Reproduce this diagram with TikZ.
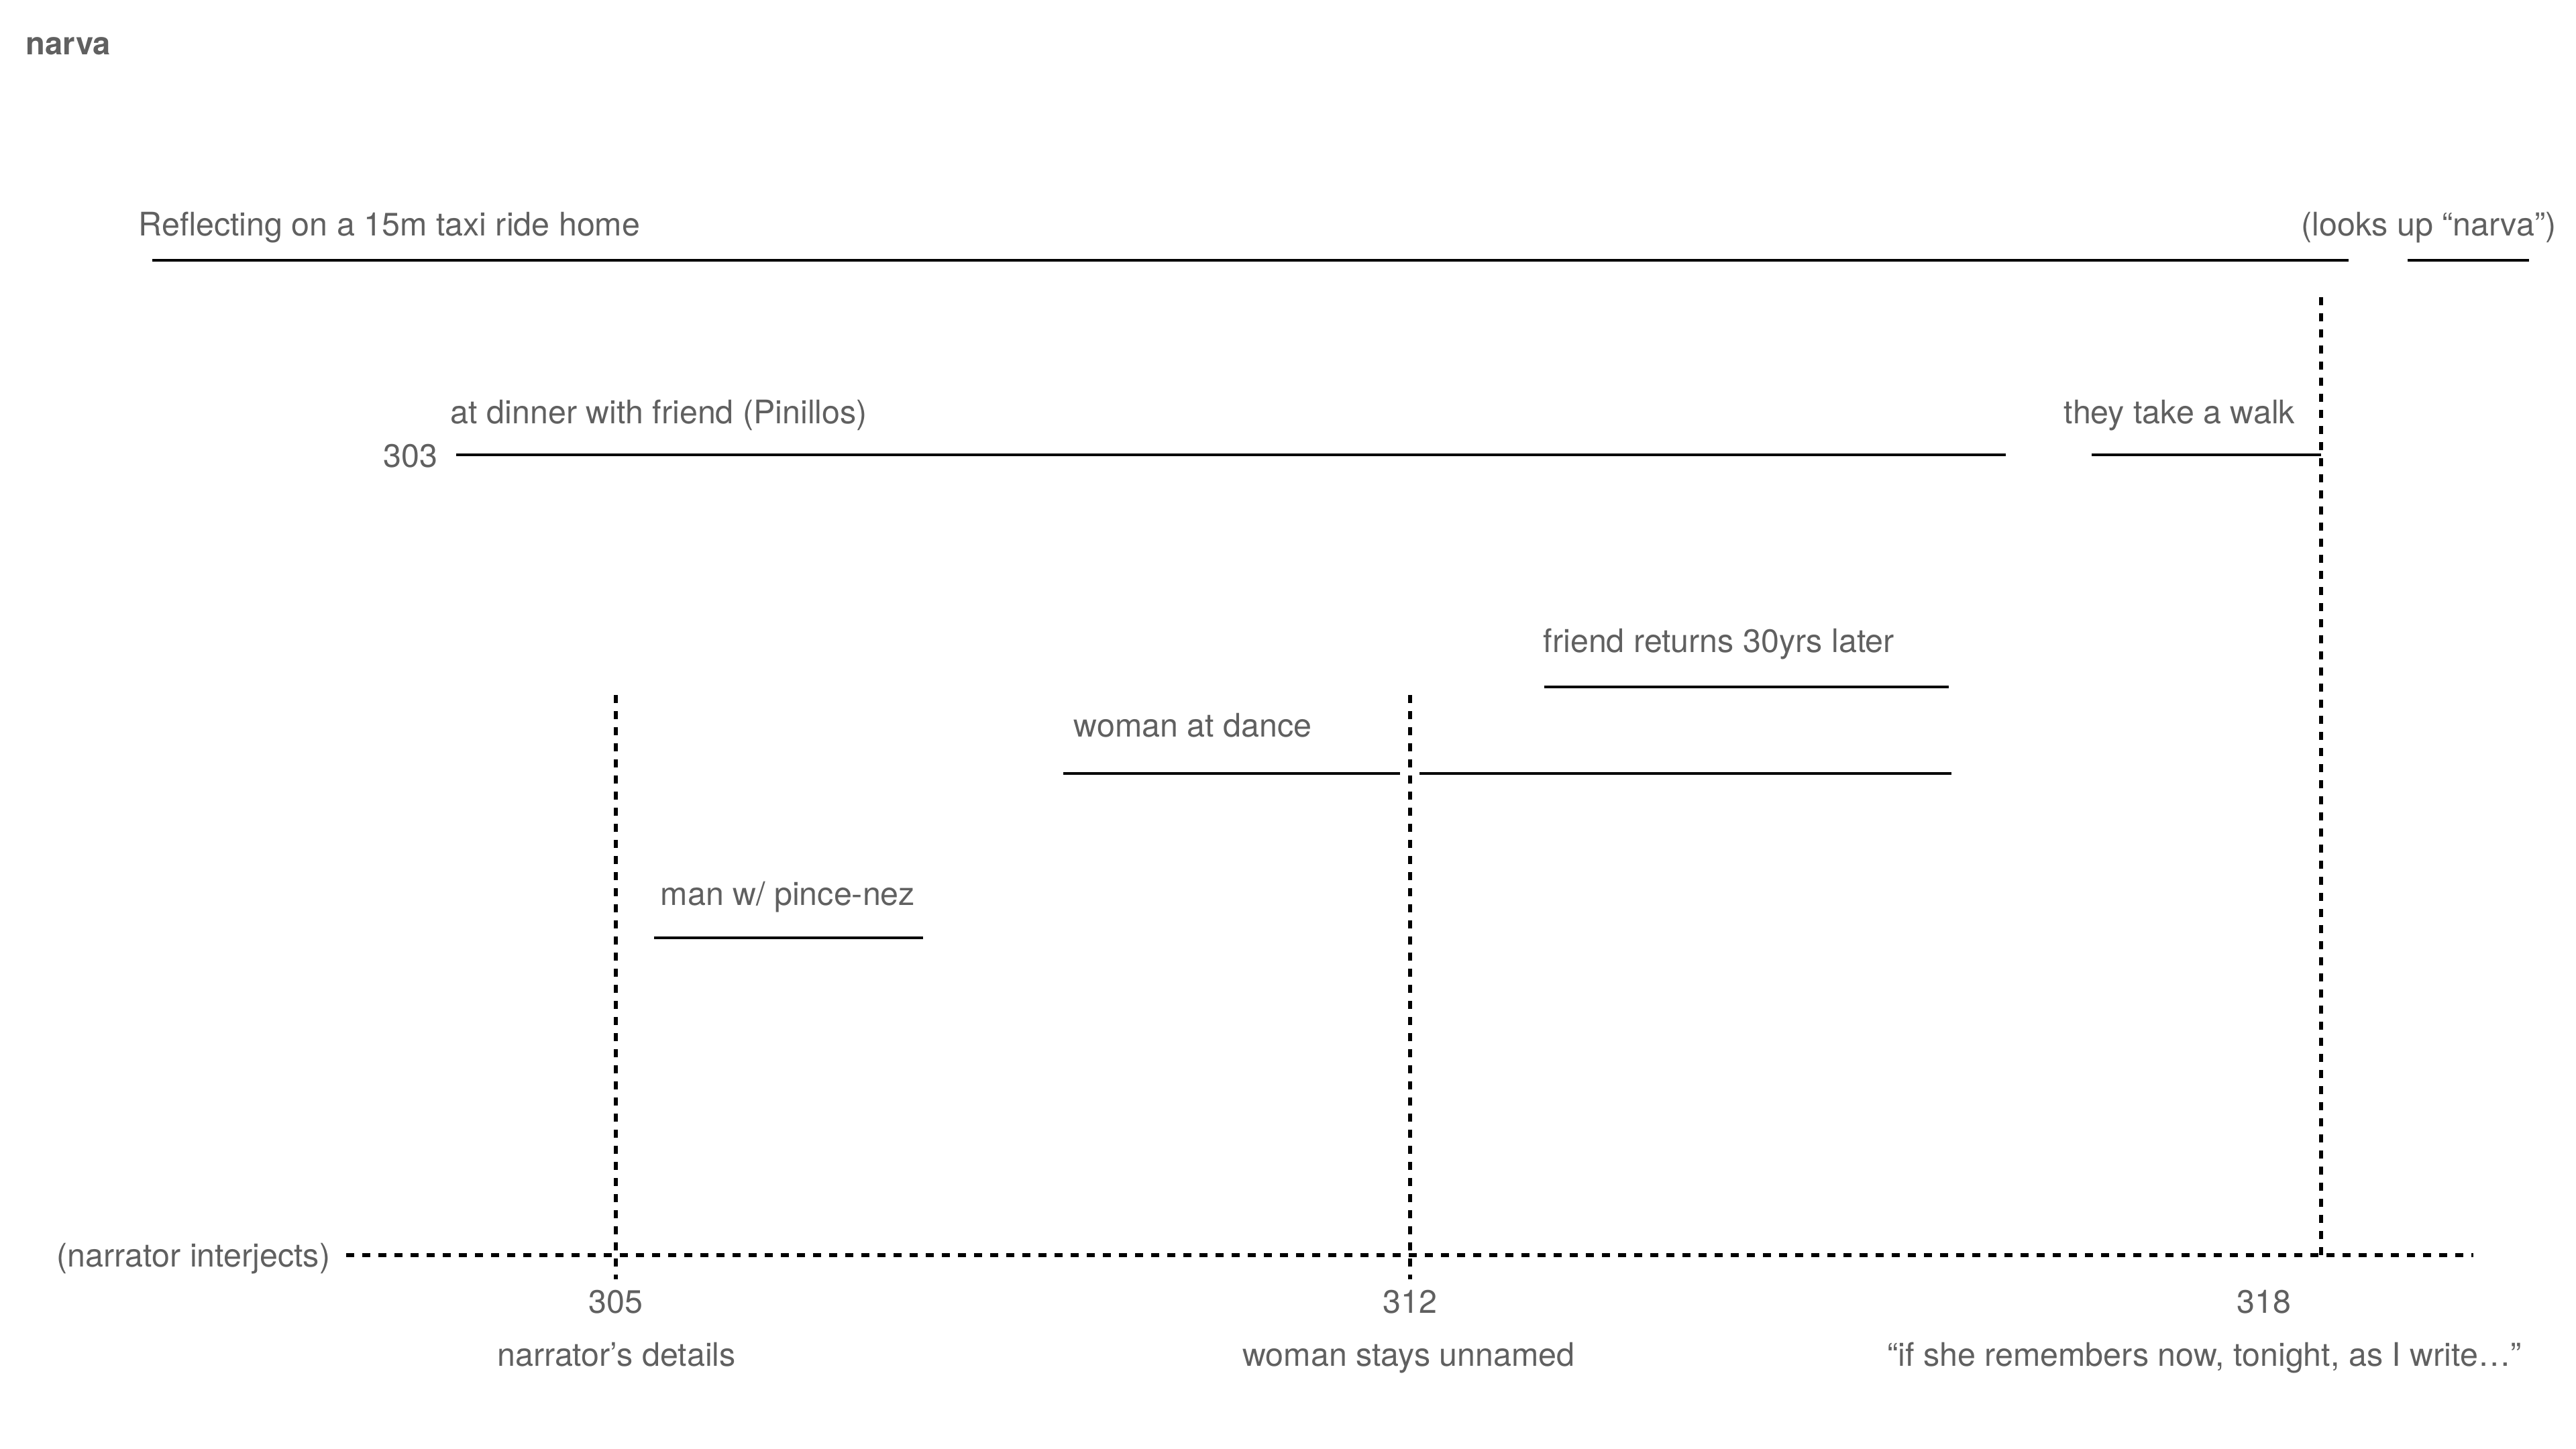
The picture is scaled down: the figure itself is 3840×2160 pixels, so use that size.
\documentclass[tikz,border=0pt]{standalone}
\usepackage{fontspec}
\setmainfont{TeX Gyre Heros}
\definecolor{txt}{RGB}{96,96,96}
\begin{document}
\begin{tikzpicture}[x=0.25pt,y=-0.25pt,
  lbl/.style={font=\fontsize{12.1}{14}\selectfont, text=txt, inner sep=0pt},
  ttl/.style={font=\fontsize{11.8}{14}\selectfont\bfseries, text=txt, inner sep=0pt},
  bar/.style={line width=1.15pt, black},
  tickline/.style={line width=1.4pt, black, dash pattern=on 3pt off 3pt}]
\useasboundingbox (0,0) rectangle (3840,2160);
% title
\node[ttl, anchor=base west] (title) at (38,82) {narva};
% top strand
\node[lbl, anchor=base west] (taxi) at (206,352) {Reflecting on a 15m taxi ride home};
\node[lbl, anchor=base east] (looks) at (3811,352) {(looks up “narva”)};
\coordinate (t1a) at (227,388); \coordinate (t1b) at (3501,388);
\coordinate (t2a) at (3589,388); \coordinate (t2b) at (3770,388);
\draw[bar] (t1a) -- (t1b);
\draw[bar] (t2a) -- (t2b);
% dinner strand
\node[lbl, anchor=base west] (dinner) at (671,632) {at dinner with friend (Pinillos)};
\node[lbl, anchor=base east] (p303) at (653,697) {303};
\node[lbl, anchor=base west] (walk) at (3076,632) {they take a walk};
\coordinate (d1a) at (680,678); \coordinate (d1b) at (2990,678);
\coordinate (d2a) at (3118,678); \coordinate (d2b) at (3460,678);
\draw[bar] (d1a) -- (d1b);
\draw[bar] (d2a) -- (d2b);
% friend returns
\node[lbl, anchor=base west] (friend) at (2300,972) {friend returns 30yrs later};
\coordinate (f1a) at (2302,1024); \coordinate (f1b) at (2905,1024);
\draw[bar] (f1a) -- (f1b);
% woman at dance
\node[lbl, anchor=base west] (dance) at (1600,1098) {woman at dance};
\coordinate (w1a) at (1585,1153); \coordinate (w1b) at (2087,1153);
\coordinate (w2a) at (2116,1153); \coordinate (w2b) at (2909,1153);
\draw[bar] (w1a) -- (w1b);
\draw[bar] (w2a) -- (w2b);
% man w/ pince-nez
\node[lbl, anchor=base west] (man) at (984,1349) {man w/ pince-nez};
\coordinate (m1a) at (975,1398); \coordinate (m1b) at (1376,1398);
\draw[bar] (m1a) -- (m1b);
% narrator line
\node[lbl, anchor=base west] (narr) at (84,1888) {(narrator interjects)};
\coordinate (n1a) at (516,1871); \coordinate (n1b) at (3687,1871);
\draw[tickline] (n1a) -- (n1b);
% vertical markers
\coordinate (v1a) at (918,1036); \coordinate (v1b) at (918,1907);
\coordinate (v2a) at (2102,1036); \coordinate (v2b) at (2102,1907);
\coordinate (v3a) at (3460,443); \coordinate (v3b) at (3460,1871);
\draw[tickline] (v1a) -- (v1b);
\draw[tickline] (v2a) -- (v2b);
\draw[tickline] (v3a) -- (v3b);
% page labels
\node[lbl, anchor=base] (p305) at (918,1957) {305};
\node[lbl, anchor=base] (p312) at (2102,1957) {312};
\node[lbl, anchor=base] (p318) at (3375,1957) {318};
\node[lbl, anchor=base] (c305) at (919,2036) {narrator’s details};
\node[lbl, anchor=base] (c312) at (2100,2036) {woman stays unnamed};
\node[lbl, anchor=base] (c318) at (3286,2036) {“if she remembers now, tonight, as I write…”};
\end{tikzpicture}
\end{document}
